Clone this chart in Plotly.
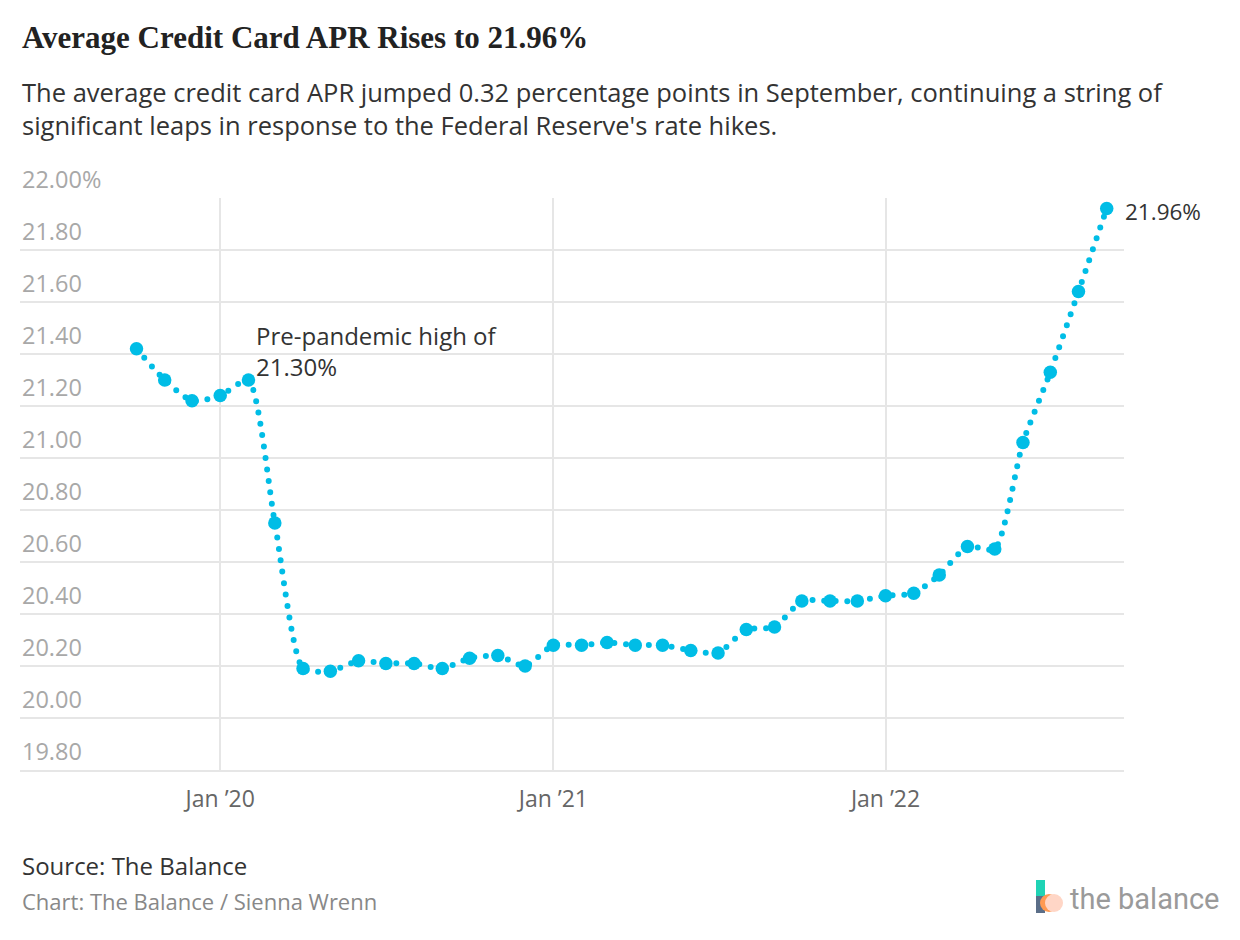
import plotly.graph_objects as go

# ---- data ----
months = [
    "2019-10-01", "2019-11-01", "2019-12-01",
    "2020-01-01", "2020-02-01", "2020-03-01", "2020-04-01", "2020-05-01", "2020-06-01",
    "2020-07-01", "2020-08-01", "2020-09-01", "2020-10-01", "2020-11-01", "2020-12-01",
    "2021-01-01", "2021-02-01", "2021-03-01", "2021-04-01", "2021-05-01", "2021-06-01",
    "2021-07-01", "2021-08-01", "2021-09-01", "2021-10-01", "2021-11-01", "2021-12-01",
    "2022-01-01", "2022-02-01", "2022-03-01", "2022-04-01", "2022-05-01", "2022-06-01",
    "2022-07-01", "2022-08-01", "2022-09-01",
]
apr = [
    21.42, 21.30, 21.22,
    21.24, 21.30, 20.75, 20.19, 20.18, 20.22,
    20.21, 20.21, 20.19, 20.23, 20.24, 20.20,
    20.28, 20.28, 20.29, 20.28, 20.28, 20.26,
    20.25, 20.34, 20.35, 20.45, 20.45, 20.45,
    20.47, 20.48, 20.55, 20.66, 20.65, 21.06,
    21.33, 21.64, 21.96,
]
y_tick_vals = [19.8, 20.0, 20.2, 20.4, 20.6, 20.8, 21.0, 21.2, 21.4, 21.6, 21.8, 22.0]
y_tick_text = ["19.80", "20.00", "20.20", "20.40", "20.60", "20.80", "21.00",
               "21.20", "21.40", "21.60", "21.80", "22.00%"]
x_tick_vals = ["2020-01-01", "2021-01-01", "2022-01-01"]
x_tick_text = ["Jan \u201920", "Jan \u201921", "Jan \u201922"]
pre_pandemic_idx = 4

title = "Average Credit Card APR Rises to 21.96%"
subtitle = ("The average credit card APR jumped 0.32 percentage points in September, continuing a string of<br>"
            "significant leaps in response to the Federal Reserve's rate hikes.")

# ---- geometry helpers (pixel -> paper) ----
W, H = 1240, 940
ML, MR, MT, MB = 20, 116, 198, 170
PW, PH = W - ML - MR, H - MT - MB


def px(x):
    return (x - ML) / PW


def py(y):
    return (H - MB - y) / PH


BLUE = "#00bde6"
GRID = "#e6e6e6"
SANS = "Open Sans, Roboto, sans-serif"

fig = go.Figure()
fig.add_trace(go.Scatter(
    x=months, y=apr, mode="lines+markers",
    line=dict(color=BLUE, width=6, dash="0px,11.5px", shape="spline", smoothing=0.6),
    marker=dict(color=BLUE, size=13.5),
    hoverinfo="x+y", showlegend=False,
))

annotations = []
# y tick labels above gridlines
for v, t in zip(y_tick_vals, y_tick_text):
    annotations.append(dict(
        x=0, xref="paper", y=v, yref="y", text=t, showarrow=False,
        xanchor="left", yanchor="bottom", yshift=1,
        font=dict(family=SANS, size=23.5, color="#a8a8a8"),
    ))

# point labels
annotations.append(dict(
    x=months[pre_pandemic_idx], y=apr[pre_pandemic_idx], xref="x", yref="y",
    text=f"Pre-pandemic high of<br>{apr[pre_pandemic_idx]:.2f}%", showarrow=False,
    xanchor="left", yanchor="bottom", xshift=6, yshift=-5, align="left",
    font=dict(family=SANS, size=24, color="#333333"),
))
annotations.append(dict(
    x=months[-1], y=apr[-1], xref="x", yref="y",
    text=f"{apr[-1]:.2f}%", showarrow=False,
    xanchor="left", yanchor="middle", xshift=16, yshift=-3,
    font=dict(family=SANS, size=22.5, color="#333333"),
))

# title / subtitle / footer
annotations += [
    dict(x=px(20), y=py(37), xref="paper", yref="paper", text=f"<b>{title}</b>",
         showarrow=False, xanchor="left", yanchor="middle",
         font=dict(family="Liberation Serif, serif", size=31, color="#222222")),
    dict(x=px(20), y=py(73), xref="paper", yref="paper", text=subtitle,
         showarrow=False, xanchor="left", yanchor="top", align="left",
         font=dict(family=SANS, size=25.5, color="#333333")),
    dict(x=px(20), y=py(865), xref="paper", yref="paper", text="Source: The Balance",
         showarrow=False, xanchor="left", yanchor="middle",
         font=dict(family=SANS, size=24, color="#333333")),
    dict(x=px(20), y=py(901), xref="paper", yref="paper", text="Chart: The Balance / Sienna Wrenn",
         showarrow=False, xanchor="left", yanchor="middle",
         font=dict(family=SANS, size=22, color="#888888")),
    dict(x=px(1068), y=py(899), xref="paper", yref="paper", text="the balance",
         showarrow=False, xanchor="left", yanchor="middle",
         font=dict(family="Roboto, sans-serif", size=29, color="#9a9a9a")),
]

# logo shapes
shapes = [
    dict(type="rect", xref="paper", yref="paper", x0=px(1036), x1=px(1045), y0=py(913), y1=py(880),
         fillcolor="#1fd3b5", line_width=0, layer="above"),
    dict(type="rect", xref="paper", yref="paper", x0=px(1036), x1=px(1045), y0=py(913), y1=py(896),
         fillcolor="#5b6e88", line_width=0, layer="above"),
    dict(type="circle", xref="paper", yref="paper", x0=px(1040), x1=px(1058), y0=py(912), y1=py(894),
         fillcolor="#ff9a52", line_width=0, layer="above"),
    dict(type="circle", xref="paper", yref="paper", x0=px(1045), x1=px(1063), y0=py(912), y1=py(894),
         fillcolor="#ffd6c6", line_width=0, layer="above"),
]

fig.update_layout(
    width=W, height=H,
    margin=dict(l=ML, r=MR, t=MT, b=MB, pad=0),
    paper_bgcolor="white", plot_bgcolor="white",
    annotations=annotations, shapes=shapes,
    xaxis=dict(
        type="date", range=["2019-05-26", "2022-09-20"],
        tickvals=x_tick_vals, ticktext=x_tick_text,
        showgrid=True, gridcolor=GRID, gridwidth=2,
        showline=True, linecolor=GRID, linewidth=2,
        zeroline=False, ticks="", ticklabelstandoff=7,
        tickfont=dict(family=SANS, size=23, color="#666666"),
    ),
    yaxis=dict(
        range=[19.8, 22.0], tickvals=y_tick_vals, showticklabels=False,
        showgrid=True, gridcolor=GRID, gridwidth=2, zeroline=False, ticks="",
    ),
)

post = ("document.body.style.margin='0';"
        "document.querySelectorAll('path.js-line').forEach(function(p){"
        "p.style.strokeLinecap='round';});")
fig.write_html("out.html", post_script=post, config={"displayModeBar": False})
